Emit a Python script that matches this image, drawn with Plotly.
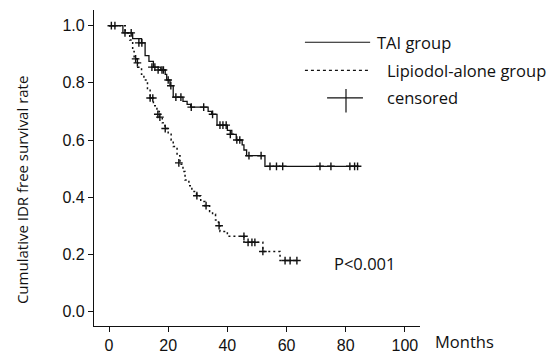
import plotly.graph_objects as go

# Kaplan-Meier step data (time in months, survival probability)
tai_time = [0, 4.7, 8, 11, 12.2, 13.5, 15, 17.5, 19, 19.5, 20.6, 21.7, 25, 26.4, 27.6,
            33.5, 34.7, 36.5, 40, 41.5, 43, 45, 45.6, 46.5, 52.7, 84.5]
tai_surv = [1.0, 0.975, 0.955, 0.94, 0.895, 0.875, 0.855, 0.845, 0.83, 0.81, 0.79, 0.75,
            0.735, 0.725, 0.715, 0.70, 0.69, 0.652, 0.634, 0.62, 0.60, 0.583, 0.565,
            0.545, 0.508, 0.508]
tai_cens_time = [0.8, 2.0, 5.4, 10.1, 11.1, 14.5, 15.5, 16.6, 17.9, 18.4, 20.0, 20.9,
                 22.6, 24.3, 27.8, 32.0, 35.0, 37.5, 38.5, 39.6, 41.0, 43.2, 44.2,
                 47.3, 51.4, 54.4, 56.6, 58.7, 71.3, 75.0, 81.4, 83.0, 84.0]
tai_cens_surv = [1.0, 1.0, 0.975, 0.94, 0.94, 0.855, 0.855, 0.845, 0.845, 0.845, 0.81,
                 0.79, 0.75, 0.75, 0.715, 0.715, 0.69, 0.652, 0.652, 0.652, 0.62, 0.60,
                 0.60, 0.545, 0.545, 0.508, 0.508, 0.508, 0.508, 0.508, 0.508, 0.508, 0.508]

lip_time = [0, 5.5, 7, 8, 8.5, 9.7, 11, 11.8, 13, 13.9, 15, 16.2, 17, 18, 18.9, 20, 21,
            21.7, 23, 24, 25, 25.7, 27, 28, 29.6, 31, 32.4, 34, 35, 36, 37, 37.5, 40,
            45.6, 52, 57.8, 64]
lip_surv = [1.0, 0.975, 0.95, 0.91, 0.884, 0.855, 0.83, 0.81, 0.78, 0.747, 0.72, 0.70,
            0.68, 0.66, 0.64, 0.62, 0.60, 0.577, 0.545, 0.515, 0.49, 0.46, 0.44, 0.42,
            0.405, 0.385, 0.37, 0.35, 0.34, 0.32, 0.30, 0.28, 0.263, 0.242, 0.21, 0.178,
            0.178]
lip_cens_time = [7.5, 9.0, 9.6, 13.9, 14.8, 16.5, 17.2, 19.0, 23.6, 29.7, 32.8, 37.2,
                 45.6, 47.0, 48.3, 49.3, 52.0, 59.5, 61.2, 63.5]
lip_cens_surv = [0.975, 0.884, 0.87, 0.747, 0.747, 0.69, 0.68, 0.64, 0.52, 0.405, 0.37,
                 0.30, 0.263, 0.242, 0.242, 0.242, 0.21, 0.178, 0.178, 0.178]

x_ticks = [0, 20, 40, 60, 80, 100]
y_ticks = [0.0, 0.2, 0.4, 0.6, 0.8, 1.0]
y_tick_labels = ["0.0", "0.2", "0.4", "0.6", "0.8", "1.0"]

INK = "#111111"
fig = go.Figure()
fig.add_trace(go.Scatter(x=tai_time, y=tai_surv, mode="lines", line_shape="hv",
                         line=dict(color=INK, width=1.3), showlegend=False))
fig.add_trace(go.Scatter(x=lip_time, y=lip_surv, mode="lines", line_shape="hv",
                         line=dict(color=INK, width=1.5, dash="2px,3px"), showlegend=False))
for cx, cy in [(tai_cens_time, tai_cens_surv), (lip_cens_time, lip_cens_surv)]:
    fig.add_trace(go.Scatter(x=cx, y=cy, mode="markers", showlegend=False,
                             marker=dict(symbol="cross-thin", size=5.5,
                                         line=dict(color=INK, width=1.4))))

axis_common = dict(showline=True, linecolor=INK, linewidth=1.3, ticks="outside",
                   ticklen=5, tickwidth=1.2, tickcolor=INK, showgrid=False, zeroline=False,
                   tickfont=dict(family="Liberation Sans, Arial", size=16, color=INK))
fig.update_xaxes(range=[-5.07, 105.1], tickvals=x_ticks, **axis_common)
fig.update_yaxes(range=[-0.051, 1.055], tickvals=y_ticks, ticktext=y_tick_labels,
                 **axis_common)

lf = dict(family="Open Sans, Noto Sans", size=16.5, color=INK)
shapes = [
    dict(type="line", xref="paper", yref="paper", x0=0.647, x1=0.847, y0=0.898, y1=0.898,
         line=dict(color=INK, width=1.2)),
    dict(type="line", xref="paper", yref="paper", x0=0.647, x1=0.847, y0=0.809, y1=0.809,
         line=dict(color=INK, width=1.2, dash="3px,3px")),
    dict(type="line", xref="paper", yref="paper", x0=0.715, x1=0.825, y0=0.722, y1=0.722,
         line=dict(color=INK, width=1.2)),
    dict(type="line", xref="paper", yref="paper", x0=0.773, x1=0.773, y0=0.676, y1=0.750,
         line=dict(color=INK, width=1.2)),
]
annotations = [
    dict(text="TAI group", xref="paper", yref="paper", x=0.862, y=0.898,
         xanchor="left", yanchor="middle", showarrow=False, font=lf),
    dict(text="Lipiodol-alone group", xref="paper", yref="paper", x=0.893, y=0.809,
         xanchor="left", yanchor="middle", showarrow=False, font=lf),
    dict(text="censored", xref="paper", yref="paper", x=0.893, y=0.722,
         xanchor="left", yanchor="middle", showarrow=False, font=lf),
    dict(text="P<0.001", xref="paper", yref="paper", x=0.730, y=0.198,
         xanchor="left", yanchor="middle", showarrow=False, font=lf),
    dict(text="Months", xref="paper", yref="paper", x=1.040, y=-0.049,
         xanchor="left", yanchor="middle", showarrow=False,
         font=dict(family="Open Sans, Noto Sans", size=16.5, color=INK)),
    dict(text="Cumulative IDR free survival rate", xref="paper", yref="paper",
         x=-0.221, y=0.43, xanchor="center", yanchor="middle", textangle=-90,
         showarrow=False, font=dict(family="Open Sans, Noto Sans", size=15, color=INK)),
]

fig.update_layout(width=553, height=364, margin=dict(l=94, r=133, t=10, b=30),
                  plot_bgcolor="white", paper_bgcolor="white",
                  shapes=shapes, annotations=annotations)
fig.write_html("out.html")
